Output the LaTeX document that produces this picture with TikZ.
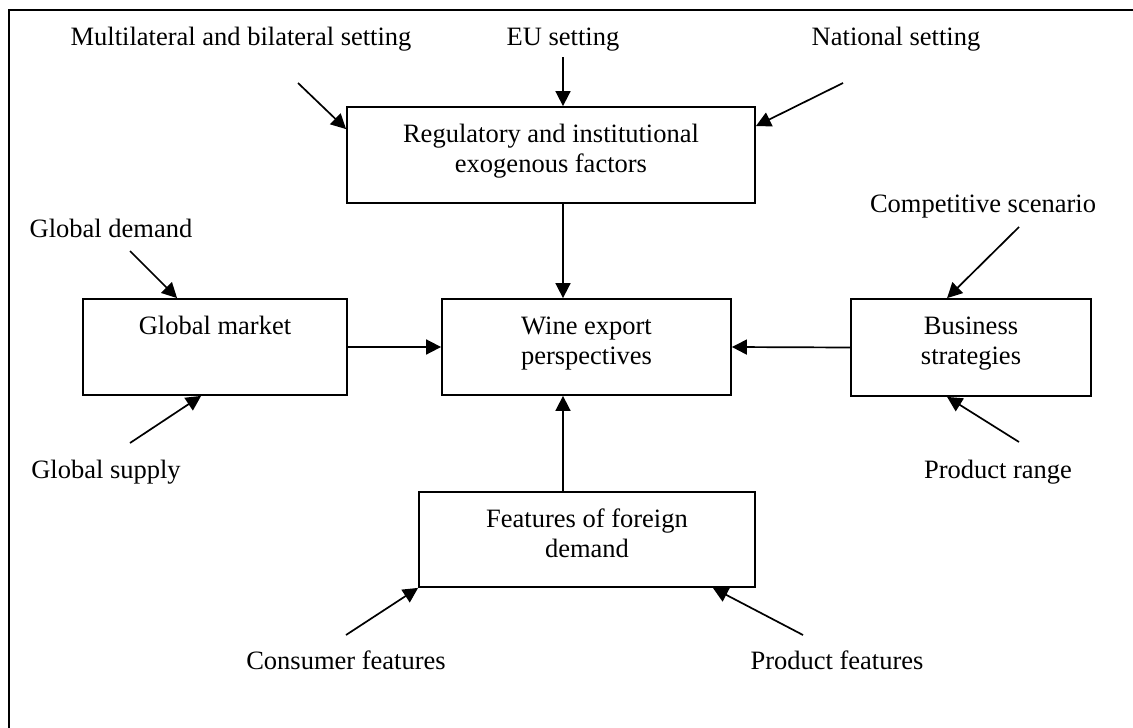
\documentclass[tikz,border=0pt]{standalone}
\usepackage{fontspec}
\setmainfont{Liberation Serif}
\usetikzlibrary{arrows.meta,calc}
\begin{document}
\begin{tikzpicture}[x=1pt,y=-1pt,
  box/.style={draw, line width=1.8pt, inner sep=0pt},
  txt/.style={font=\fontsize{26.5}{30}\selectfont, align=center, inner sep=0pt},
  arr/.style={line width=1.7pt, -{Triangle[length=15pt,width=15pt]}}]
\useasboundingbox (0,0) rectangle (1133,728);
\draw[line width=2pt] (9,728) -- (9,10) -- (1133,10);

% boxes
\node[box, minimum width=408pt, minimum height=96pt] (reg) at (551,155) {};
\node[txt, anchor=north] (regt) at (551,121) {\strut Regulatory and institutional\\exogenous factors};
\node[box, minimum width=289pt, minimum height=96pt] (wine) at (586.5,347) {};
\node[txt, anchor=north] (winet) at (586.5,313) {\strut Wine export\\perspectives};
\node[box, minimum width=264pt, minimum height=96pt] (gm) at (215,347) {};
\node[txt, anchor=north] (gmt) at (215,313) {\strut Global market};
\node[box, minimum width=240pt, minimum height=97pt] (bus) at (971,347.5) {};
\node[txt, anchor=north] (bust) at (971,313) {\strut Business\\strategies};
\node[box, minimum width=336pt, minimum height=95pt] (feat) at (587,539.5) {};
\node[txt, anchor=north] (featt) at (587,506) {\strut Features of foreign\\demand};

% labels
\node[txt, anchor=base] (multi) at (241,45) {Multilateral and bilateral setting};
\node[txt, anchor=base] (eu) at (563,45) {EU setting};
\node[txt, anchor=base] (nat) at (896,45) {National setting};
\node[txt, anchor=base] (gd) at (111,237) {Global demand};
\node[txt, anchor=base] (gs) at (106,478) {Global supply};
\node[txt, anchor=base] (cs) at (983,212) {Competitive scenario};
\node[txt, anchor=base] (pr) at (998,478) {Product range};
\node[txt, anchor=base] (cf) at (346,669) {Consumer features};
\node[txt, anchor=base] (pf) at (837,669) {Product features};

% arrow start points
\coordinate (multiS) at (298,83);
\coordinate (euS) at (563,57);
\coordinate (natS) at (843,83);
\coordinate (gdS) at (130,251);
\coordinate (gsS) at (130,443);
\coordinate (csS) at (1019,227);
\coordinate (prS) at (1019,442);
\coordinate (cfS) at (346,635);
\coordinate (pfS) at (803,635);

% arrows
\draw[arr] (multiS) -- ([yshift=-23pt]reg.north west);
\draw[arr] (euS) -- (reg.north -| euS);
\draw[arr] (natS) -- ([yshift=-20pt]reg.north east);
\draw[arr] (reg.south -| euS) -- (wine.north -| euS);
\draw[arr] (gdS) -- ([xshift=95pt]gm.north west);
\draw[arr] (gsS) -- ([xshift=119pt]gm.south west);
\draw[arr] (gm.east) -- (wine.west);
\draw[arr] (csS) -- ([xshift=97pt]bus.north west);
\draw[arr] (prS) -- ([xshift=97pt]bus.south west);
\draw[arr] (bus.west) -- (wine.east);
\draw[arr] (feat.north -| euS) -- (wine.south -| euS);
\draw[arr] (cfS) -- (feat.south west);
\draw[arr] (pfS) -- ([xshift=-43pt]feat.south east);
\end{tikzpicture}
\end{document}
